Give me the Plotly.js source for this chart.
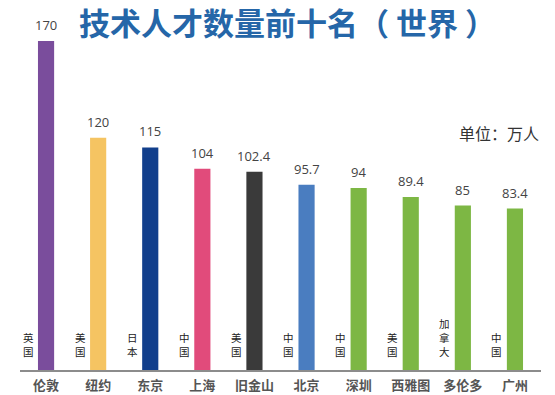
<!DOCTYPE html>
<html>
<head>
<meta charset="utf-8">
<script src="https://cdn.plot.ly/plotly-3.0.1.min.js"></script>
<style>html,body{margin:0;padding:0;background:#fff;}#chart{width:555px;height:395px;}</style>
</head>
<body>
<div id="chart"></div>
<script>
const cities = ['伦敦','纽约','东京','上海','旧金山','北京','深圳','西雅图','多伦多','广州'];
const countries = ['英国','美国','日本','中国','美国','中国','中国','美国','加拿大','中国'];
const values = [170, 120, 115, 104, 102.4, 95.7, 94, 89.4, 85, 83.4];
const colors = ['#7A4D9C','#F5C462','#123F8C','#E14B7B','#3A3A3A','#4A7DC0','#7DB744','#7DB744','#7DB744','#7DB744'];

const trace = {
  type: 'bar',
  x: cities,
  y: values,
  marker: {color: colors, line: {width: 0}},
  hoverinfo: 'none'
};

const annotations = [];
values.forEach((v, i) => {
  annotations.push({
    x: cities[i], y: v, xref: 'x', yref: 'y',
    text: String(v), showarrow: false,
    xanchor: 'center', yanchor: 'bottom', yshift: 5,
    font: {family: 'Open Sans, Noto Sans, sans-serif', size: 13, color: '#444'}
  });
});
countries.forEach((c, i) => {
  const chars = c.split('');
  const n = chars.length;
  chars.forEach((ch, k) => {
    annotations.push({
      x: cities[i], y: 0, xref: 'x', yref: 'y',
      text: ch, showarrow: false, borderpad: 0,
      xanchor: 'center', yanchor: 'middle',
      xshift: -18, yshift: 19 + (n - 1 - k) * 14,
      font: {family: 'Noto Sans CJK SC, sans-serif', size: 10.5, color: '#222'}
    });
  });
});
annotations.push({
  xref: 'paper', yref: 'paper', x: 1.0, y: 0.64,
  xanchor: 'right', yanchor: 'middle',
  text: '单位：万人', showarrow: false,
  font: {family: 'Noto Sans CJK SC, sans-serif', size: 16, color: '#333'}
});

const layout = {
  width: 555, height: 395,
  margin: {l: 20, r: 14, t: 0, b: 25},
  paper_bgcolor: '#fff', plot_bgcolor: '#fff',
  title: {
    text: '<b>技术人才数量前十名（ 世界 ）</b>',
    x: 0.518, xanchor: 'center', y: 0.94, yanchor: 'middle',
    font: {family: 'Noto Sans CJK SC, sans-serif', size: 31, color: '#2566A8'}
  },
  bargap: 0.69,
  showlegend: false,
  xaxis: {
    type: 'category',
    showline: true, linecolor: '#8c8c8c', linewidth: 1.5,
    ticks: '', showgrid: false,
    ticklabelstandoff: 3,
    tickfont: {family: 'Noto Sans CJK SC, sans-serif', size: 13, color: '#555', weight: 'bold'},
    fixedrange: true
  },
  yaxis: {
    range: [0, 191.2],
    visible: false, showgrid: false, zeroline: false,
    fixedrange: true
  },
  annotations: annotations
};

Plotly.newPlot('chart', [trace], layout, {displayModeBar: false, staticPlot: true});
</script>
</body>
</html>
